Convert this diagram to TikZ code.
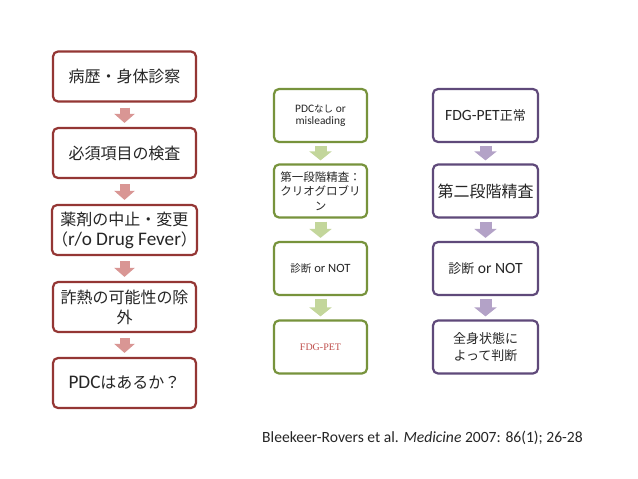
\documentclass[tikz,border=0pt]{standalone}
\usepackage{fontspec}
\setmainfont{Carlito}[Scale=1.2]
\newfontfamily\jp{Noto Sans CJK JP}
\newfontfamily\serlat{Liberation Serif}
\usetikzlibrary{arrows.meta}
\definecolor{redB}{HTML}{943634}
\definecolor{redA}{HTML}{D99694}
\definecolor{grnB}{HTML}{77933C}
\definecolor{grnA}{HTML}{C3D69B}
\definecolor{purB}{HTML}{5F497A}
\definecolor{purA}{HTML}{B3A2C7}
\definecolor{fdgred}{HTML}{C0504D}
\newcommand{\fs}[2]{\fontsize{#1}{#2}\selectfont}
\begin{document}
\begin{tikzpicture}[x=1pt,y=-1pt,
  box/.style={draw, line width=2.2pt, rounded corners=5pt, fill=white, align=center, inner sep=0pt, text=black!85},
  lbox/.style={box, draw=redB, minimum width=143pt, minimum height=50pt, font=\fs{16}{20}},
  mbox/.style={box, draw=grnB, minimum width=93pt, minimum height=53pt},
  rbox/.style={box, draw=purB, minimum width=105pt, minimum height=53pt},
  blk/.style={line width=10pt, -{Triangle[width=20pt,length=9pt]}},
  lar/.style={blk, draw=redA, shorten <=5pt, shorten >=4pt},
  mar/.style={blk, draw=grnA, line width=12pt, -{Triangle[width=22pt,length=9pt]}, shorten <=3pt, shorten >=3pt},
  rar/.style={blk, draw=purA, line width=12pt, -{Triangle[width=22pt,length=9pt]}, shorten <=3pt, shorten >=3pt}
]
\useasboundingbox[fill=white] (0,0) rectangle (638,479);

% left column
\node[lbox] (l1) at (124.5,76.5) {\jp 病歴・身体診察};
\node[lbox] (l2) at (124.5,153) {\jp 必須項目の検査};
\node[lbox] (l3) at (124.5,230) {\jp 薬剤の中止・変更\\{\jp （}r/o Drug Fever{\jp ）}};
\node[lbox] (l4) at (124.5,307) {\jp 詐熱の可能性の除\\\jp 外};
\node[lbox] (l5) at (124.5,383) {PDC{\jp はあるか？}};
\draw[lar] (l1.south) -- (l2.north);
\draw[lar] (l2.south) -- (l3.north);
\draw[lar] (l3.south) -- (l4.north);
\draw[lar] (l4.south) -- (l5.north);

% middle column
\node[mbox, font=\fs{9.5}{12.5}] (m1) at (320.5,115.5) {PDC{\jp なし} or\\misleading};
\node[mbox, font=\fs{11.5}{14.5}] (m2) at (320.5,191) {\jp 第一段階精査：\\\jp クリオグロブリ\\\jp ン};
\node[mbox, font=\fs{10.5}{13}] (m3) at (320.5,268.5) {{\jp 診断} or NOT};
\node[mbox, font=\fs{10}{12}] (m4) at (320.5,347) {\serlat\color{fdgred}FDG-PET};
\draw[mar] (m1.south) -- (m2.north);
\draw[mar] (m2.south) -- (m3.north);
\draw[mar] (m3.south) -- (m4.north);

% right column
\node[rbox, font=\fs{13}{17}] (r1) at (485.5,115.5) {FDG-PET{\jp 正常}};
\node[rbox, font=\fs{16}{20}] (r2) at (485.5,191) {\jp 第二段階精査};
\node[rbox, font=\fs{13}{17}] (r3) at (485.5,268.5) {{\jp 診断} or NOT};
\node[rbox, font=\fs{13}{17}] (r4) at (485.5,347) {\jp 全身状態に\\\jp よって判断};
\draw[rar] (r1.south) -- (r2.north);
\draw[rar] (r2.south) -- (r3.north);
\draw[rar] (r3.south) -- (r4.north);

% citation
\node[font=\fs{13}{16}, text=black!85, anchor=west] (cite) at (258,438) {Bleekeer-Rovers et al. \textit{Medicine} 2007: 86(1); 26-28};
\end{tikzpicture}
\end{document}
